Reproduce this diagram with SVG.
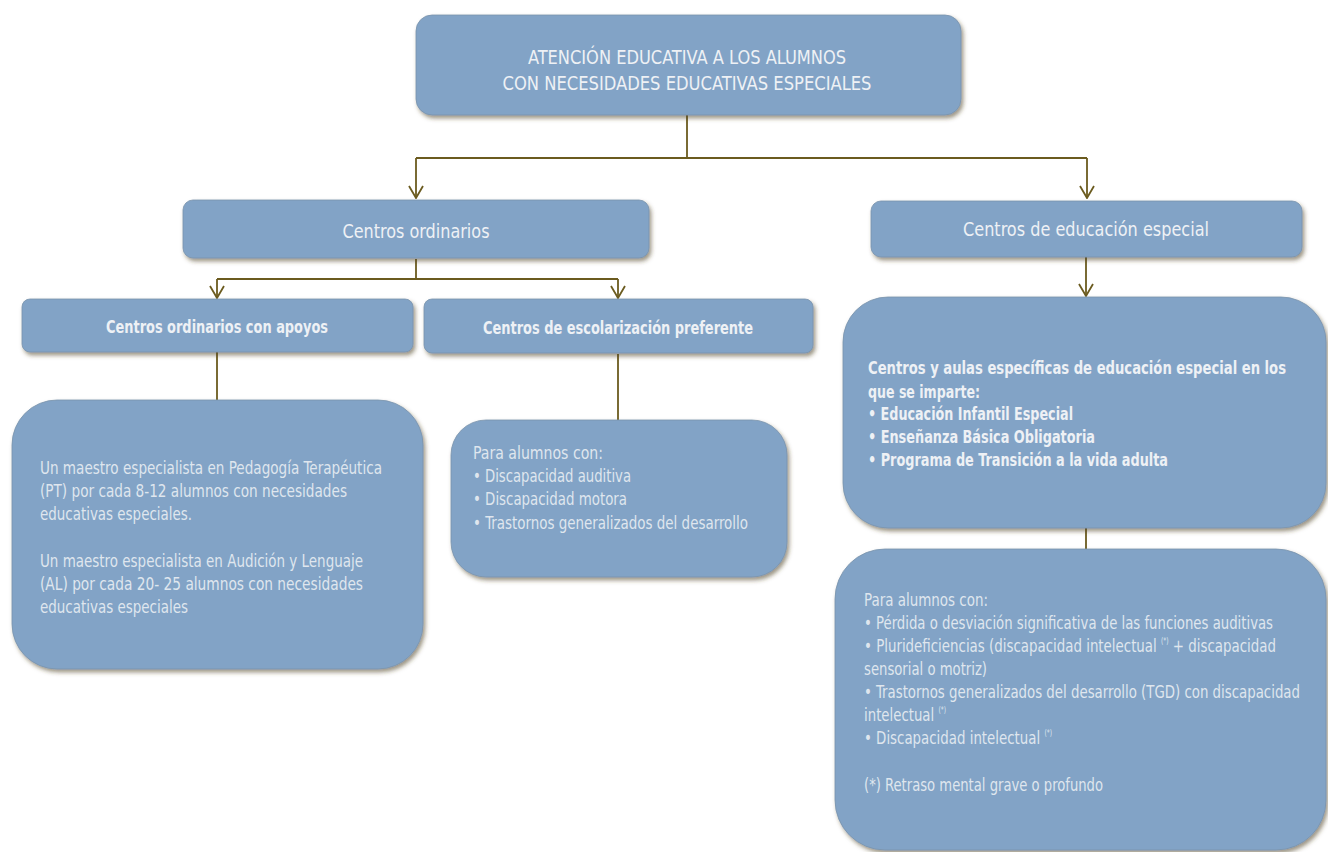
<svg xmlns="http://www.w3.org/2000/svg" width="1328" height="852" viewBox="0 0 1328 852">
<defs>
<filter id="sh" x="-10%" y="-10%" width="120%" height="130%">
<feDropShadow dx="2" dy="3" stdDeviation="2" flood-color="#4b3d20" flood-opacity="0.55"/>
</filter>
<marker id="arr" viewBox="0 0 16 14" refX="8" refY="13" markerWidth="16" markerHeight="14" markerUnits="userSpaceOnUse" orient="0">
<path d="M1,1 L8,13 L15,1" fill="none" stroke="#6b5b1f" stroke-width="1.8"/>
</marker>
</defs>
<style>
.box{fill:#82a3c6;stroke:#7a93ab;stroke-width:0.8;filter:url(#sh)}
.t{font-family:"Liberation Sans Narrow","DejaVu Sans Condensed",Roboto,"Liberation Sans",sans-serif;font-stretch:condensed;fill:#eef1f5}
.title{font-size:20px}
.hd{font-size:20px}
.hb{font-size:18.5px;font-weight:bold}
.body{font-size:18px;fill:#dfe6ee}
.bb{font-size:18.5px;font-weight:bold;fill:#eef1f5}
.sup{font-size:8px}
.c{fill:none;stroke:#6b5b1f;stroke-width:1.8}
</style>
<rect width="1328" height="852" fill="#ffffff"/>

<g id="connectors">
<path class="c" d="M687,115 V158"/>
<path class="c" d="M416,158 H1087"/>
<path class="c" d="M416,158 V198" marker-end="url(#arr)"/>
<path class="c" d="M1087,158 V198" marker-end="url(#arr)"/>
<path class="c" d="M416,259 V279"/>
<path class="c" d="M217,279 H618"/>
<path class="c" d="M217,279 V298" marker-end="url(#arr)"/>
<path class="c" d="M618,279 V298" marker-end="url(#arr)"/>
<path class="c" d="M217,352 V400"/>
<path class="c" d="M618,354 V420"/>
<path class="c" d="M1086,257 V296" marker-end="url(#arr)"/>
<path class="c" d="M1086,528 V549"/>
</g>

<g id="n-root">
<rect class="box" x="416" y="15" width="545" height="100" rx="16"/>
<text class="t title" x="687" y="64" text-anchor="middle" textLength="318" lengthAdjust="spacingAndGlyphs">ATENCIÓN EDUCATIVA A LOS ALUMNOS</text>
<text class="t title" x="687" y="90" text-anchor="middle" textLength="369" lengthAdjust="spacingAndGlyphs">CON NECESIDADES EDUCATIVAS ESPECIALES</text>
</g>

<g id="n-ordinarios">
<rect class="box" x="183" y="200" width="466" height="58" rx="10"/>
<text class="t hd" x="416" y="238" text-anchor="middle" textLength="147" lengthAdjust="spacingAndGlyphs">Centros ordinarios</text>
</g>

<g id="n-especial">
<rect class="box" x="871" y="201" width="431" height="56" rx="10"/>
<text class="t hd" x="1086" y="236" text-anchor="middle" textLength="246" lengthAdjust="spacingAndGlyphs">Centros de educación especial</text>
</g>

<g id="n-apoyos">
<rect class="box" x="22" y="299" width="391" height="53" rx="8"/>
<text class="t hb" x="217" y="333" text-anchor="middle" textLength="222" lengthAdjust="spacingAndGlyphs">Centros ordinarios con apoyos</text>
</g>

<g id="n-preferente">
<rect class="box" x="424" y="299" width="389" height="54" rx="8"/>
<text class="t hb" x="618" y="334" text-anchor="middle" textLength="270" lengthAdjust="spacingAndGlyphs">Centros de escolarización preferente</text>
</g>

<g id="n-apoyos-detalle">
<rect class="box" x="12" y="400" width="411" height="269" rx="45"/>
<text class="t body" x="40" y="474" textLength="342" lengthAdjust="spacingAndGlyphs">Un maestro especialista en Pedagogía Terapéutica</text>
<text class="t body" x="40" y="497" textLength="307" lengthAdjust="spacingAndGlyphs">(PT) por cada 8-12 alumnos con necesidades</text>
<text class="t body" x="40" y="520" textLength="152" lengthAdjust="spacingAndGlyphs">educativas especiales.</text>
<text class="t body" x="40" y="567" textLength="323" lengthAdjust="spacingAndGlyphs">Un maestro especialista en Audición y Lenguaje</text>
<text class="t body" x="40" y="590" textLength="323" lengthAdjust="spacingAndGlyphs">(AL) por cada 20- 25 alumnos con necesidades</text>
<text class="t body" x="40" y="613" textLength="148" lengthAdjust="spacingAndGlyphs">educativas especiales</text>
</g>

<g id="n-preferente-detalle">
<rect class="box" x="451" y="420" width="336" height="157" rx="35"/>
<text class="t body" x="473" y="459" textLength="130" lengthAdjust="spacingAndGlyphs">Para  alumnos con:</text>
<text class="t body" x="473" y="482" textLength="158" lengthAdjust="spacingAndGlyphs">• Discapacidad auditiva</text>
<text class="t body" x="473" y="505" textLength="154" lengthAdjust="spacingAndGlyphs">• Discapacidad motora</text>
<text class="t body" x="473" y="529" textLength="275" lengthAdjust="spacingAndGlyphs">• Trastornos generalizados del desarrollo</text>
</g>

<g id="n-especial-detalle">
<rect class="box" x="843" y="297" width="483" height="231" rx="45"/>
<text class="t bb" x="868" y="374" textLength="418" lengthAdjust="spacingAndGlyphs">Centros  y aulas específicas de educación especial en los</text>
<text class="t bb" x="868" y="398" textLength="112" lengthAdjust="spacingAndGlyphs">que se imparte:</text>
<text class="t bb" x="868" y="420" textLength="205" lengthAdjust="spacingAndGlyphs">• Educación Infantil Especial</text>
<text class="t bb" x="868" y="443" textLength="227" lengthAdjust="spacingAndGlyphs">• Enseñanza Básica Obligatoria</text>
<text class="t bb" x="868" y="466" textLength="300" lengthAdjust="spacingAndGlyphs">• Programa de Transición a la vida adulta</text>
</g>

<g id="n-especial-alumnos">
<rect class="box" x="835" y="549" width="491" height="301" rx="50"/>
<text class="t body" x="864" y="606" textLength="124" lengthAdjust="spacingAndGlyphs">Para alumnos con:</text>
<text class="t body" x="864" y="629" textLength="409" lengthAdjust="spacingAndGlyphs">• Pérdida o desviación significativa de las funciones auditivas</text>
<text class="t body" x="864" y="652" textLength="412" lengthAdjust="spacingAndGlyphs">• Plurideficiencias (discapacidad intelectual <tspan class="sup" dy="-8">(*)</tspan><tspan dy="8"> + discapacidad</tspan></text>
<text class="t body" x="864" y="675" textLength="123" lengthAdjust="spacingAndGlyphs">sensorial o motriz)</text>
<text class="t body" x="864" y="698" textLength="436" lengthAdjust="spacingAndGlyphs">• Trastornos generalizados del desarrollo (TGD) con discapacidad</text>
<text class="t body" x="864" y="721" textLength="82" lengthAdjust="spacingAndGlyphs">intelectual <tspan class="sup" dy="-8">(*)</tspan></text>
<text class="t body" x="864" y="744" textLength="188" lengthAdjust="spacingAndGlyphs">• Discapacidad intelectual <tspan class="sup" dy="-8">(*)</tspan></text>
<text class="t body" x="864" y="791" textLength="239" lengthAdjust="spacingAndGlyphs">(*) Retraso mental grave o profundo</text>
</g>
</svg>
